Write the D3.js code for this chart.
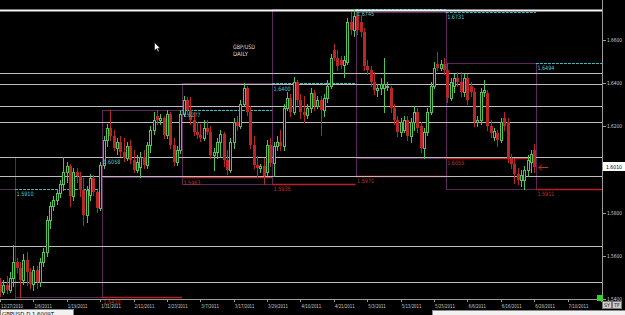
<!DOCTYPE html>
<html>
<head>
<meta charset="utf-8">
<script src="https://cdn.jsdelivr.net/npm/d3@7"></script>
<style>
  body { margin: 0; background: #000; }
  svg { display: block; }
  text { font-family: "DejaVu Sans", Arial, sans-serif; }
</style>
</head>
<body>
<svg id="chart"></svg>
<script>
// GBP/USD daily, bar 0 = 12/27/2010
var dateLabels = ["12/27/2010", "1/6/2011", "1/19/2011", "1/31/2011", "2/11/2011", "2/23/2011", "3/7/2011",
  "3/17/2011", "3/29/2011", "4/10/2011", "4/21/2011", "5/3/2011", "5/13/2011", "5/25/2011", "6/6/2011",
  "6/16/2011", "6/28/2011", "7/10/2011", "7/21/2011"];
var labelBars = [0, 10, 20, 30, 40, 50, 60, 70, 80, 90, 100, 110, 120, 130, 140, 150, 160, 170, 180];

var opens = [
  1.5478, 1.5432, 1.5464, 1.5441, 1.5497, 1.5571, 1.5543, 1.5487, 1.5580, 1.5525,
  1.5469, 1.5534, 1.5478, 1.5571, 1.5617, 1.5766, 1.5830, 1.5858, 1.5891, 1.5932,
  1.5988, 1.6016, 1.5877, 1.5988, 1.5970, 1.5905, 1.5789, 1.5881, 1.5960, 1.5895,
  1.5821, 1.6020, 1.6136, 1.6192, 1.6155, 1.6099, 1.6127, 1.6081, 1.6053, 1.6109,
  1.6044, 1.5997, 1.6010, 1.6058, 1.6020, 1.6113, 1.6183, 1.6248, 1.6229, 1.6238,
  1.6159, 1.6257, 1.6113, 1.6034, 1.6090, 1.6257, 1.6322, 1.6275, 1.6229, 1.6173,
  1.6159, 1.6146, 1.6192, 1.6173, 1.6067, 1.6081, 1.6127, 1.6164, 1.6044, 1.5997,
  1.6127, 1.6220, 1.6201, 1.6303, 1.6377, 1.6266, 1.6113, 1.6020, 1.6007, 1.6016,
  1.5988, 1.6113, 1.6030, 1.6109, 1.6127, 1.6109, 1.6285, 1.6331, 1.6266, 1.6405,
  1.6322, 1.6266, 1.6252, 1.6285, 1.6354, 1.6294, 1.6322, 1.6275, 1.6331, 1.6386,
  1.6553, 1.6516, 1.6507, 1.6484, 1.6498, 1.6683, 1.6646, 1.6711, 1.6683, 1.6637,
  1.6479, 1.6461, 1.6405, 1.6368, 1.6377, 1.6377, 1.6382, 1.6377, 1.6285, 1.6229,
  1.6173, 1.6183, 1.6229, 1.6155, 1.6220, 1.6266, 1.6201, 1.6099, 1.6173, 1.6266,
  1.6386, 1.6488, 1.6470, 1.6488, 1.6461, 1.6331, 1.6386, 1.6424, 1.6405, 1.6359,
  1.6424, 1.6386, 1.6359, 1.6220, 1.6229, 1.6359, 1.6354, 1.6201, 1.6150, 1.6169,
  1.6136, 1.6238, 1.6220, 1.6053, 1.6025, 1.5979, 1.5951, 1.5951, 1.5997, 1.6034,
  1.6090];
var highs = [
  1.5497, 1.5487, 1.5506, 1.5525, 1.5650, 1.5589, 1.5571, 1.5608, 1.5617, 1.5543,
  1.5552, 1.5552, 1.5589, 1.5636, 1.5784, 1.5849, 1.5877, 1.5909, 1.5951, 1.6058,
  1.6034, 1.6025, 1.6007, 1.6007, 1.5988, 1.5960, 1.5923, 1.5979, 1.5974, 1.5905,
  1.6034, 1.6155, 1.6210, 1.6277, 1.6183, 1.6146, 1.6155, 1.6146, 1.6127, 1.6136,
  1.6090, 1.6067, 1.6081, 1.6090, 1.6127, 1.6201, 1.6266, 1.6275, 1.6257, 1.6248,
  1.6275, 1.6266, 1.6146, 1.6109, 1.6275, 1.6340, 1.6336, 1.6336, 1.6266, 1.6220,
  1.6210, 1.6229, 1.6229, 1.6201, 1.6099, 1.6146, 1.6183, 1.6173, 1.6090, 1.6146,
  1.6238, 1.6248, 1.6322, 1.6400, 1.6386, 1.6294, 1.6155, 1.6062, 1.6025, 1.6053,
  1.6136, 1.6146, 1.6127, 1.6155, 1.6183, 1.6303, 1.6359, 1.6349, 1.6428, 1.6414,
  1.6349, 1.6340, 1.6303, 1.6377, 1.6368, 1.6340, 1.6340, 1.6349, 1.6414, 1.6535,
  1.6581, 1.6553, 1.6526, 1.6526, 1.6702, 1.6729, 1.6745, 1.6731, 1.6711, 1.6655,
  1.6507, 1.6479, 1.6451, 1.6396, 1.6424, 1.6516, 1.6405, 1.6386, 1.6303, 1.6248,
  1.6238, 1.6248, 1.6248, 1.6238, 1.6294, 1.6285, 1.6220, 1.6192, 1.6285, 1.6405,
  1.6498, 1.6544, 1.6507, 1.6516, 1.6494, 1.6424, 1.6442, 1.6451, 1.6451, 1.6442,
  1.6442, 1.6405, 1.6377, 1.6248, 1.6377, 1.6414, 1.6368, 1.6229, 1.6192, 1.6183,
  1.6238, 1.6266, 1.6238, 1.6071, 1.6053, 1.6007, 1.5997, 1.6016, 1.6067, 1.6090,
  1.6118];
var lows = [
  1.5413, 1.5423, 1.5427, 1.5432, 1.5460, 1.5525, 1.5410, 1.5469, 1.5464, 1.5450,
  1.5441, 1.5450, 1.5460, 1.5552, 1.5599, 1.5728, 1.5812, 1.5840, 1.5872, 1.5905,
  1.5942, 1.5830, 1.5858, 1.5942, 1.5877, 1.5742, 1.5756, 1.5858, 1.5881, 1.5803,
  1.5812, 1.6007, 1.6109, 1.6136, 1.6090, 1.6071, 1.6062, 1.6039, 1.6044, 1.6030,
  1.5988, 1.5988, 1.5963, 1.6007, 1.6007, 1.6081, 1.6164, 1.6210, 1.6210, 1.6146,
  1.6146, 1.6099, 1.6020, 1.6020, 1.6076, 1.6248, 1.6257, 1.6210, 1.6159, 1.6146,
  1.6132, 1.6136, 1.6164, 1.6053, 1.5997, 1.6053, 1.6058, 1.6016, 1.5979, 1.5988,
  1.6099, 1.6183, 1.6192, 1.6294, 1.6252, 1.6099, 1.6007, 1.5970, 1.5988, 1.5935,
  1.5974, 1.6016, 1.5971, 1.6090, 1.6090, 1.6090, 1.6275, 1.6248, 1.6257, 1.6303,
  1.6238, 1.6220, 1.6238, 1.6266, 1.6275, 1.6285, 1.6159, 1.6248, 1.6312, 1.6377,
  1.6507, 1.6461, 1.6470, 1.6428, 1.6488, 1.6627, 1.6618, 1.6627, 1.6618, 1.6461,
  1.6442, 1.6386, 1.6349, 1.6340, 1.6349, 1.6266, 1.6368, 1.6266, 1.6210, 1.6155,
  1.6155, 1.6173, 1.6136, 1.6127, 1.6183, 1.6173, 1.6081, 1.6055, 1.6159, 1.6257,
  1.6377, 1.6461, 1.6461, 1.6442, 1.6312, 1.6322, 1.6359, 1.6386, 1.6340, 1.6340,
  1.6303, 1.6340, 1.6201, 1.6201, 1.6210, 1.6340, 1.6183, 1.6150, 1.6136, 1.6109,
  1.6127, 1.6183, 1.6034, 1.6007, 1.5937, 1.5932, 1.5923, 1.5911, 1.5970, 1.5988,
  1.5988];
var closes = [
  1.5432, 1.5464, 1.5441, 1.5497, 1.5571, 1.5543, 1.5487, 1.5580, 1.5525, 1.5469,
  1.5534, 1.5478, 1.5571, 1.5617, 1.5766, 1.5830, 1.5858, 1.5891, 1.5932, 1.5988,
  1.6016, 1.5877, 1.5988, 1.5970, 1.5905, 1.5789, 1.5905, 1.5960, 1.5895, 1.5821,
  1.6020, 1.6136, 1.6192, 1.6155, 1.6099, 1.6127, 1.6081, 1.6053, 1.6109, 1.6044,
  1.5997, 1.6034, 1.6058, 1.6020, 1.6113, 1.6183, 1.6229, 1.6229, 1.6238, 1.6159,
  1.6257, 1.6113, 1.6034, 1.6090, 1.6257, 1.6322, 1.6275, 1.6229, 1.6173, 1.6159,
  1.6146, 1.6192, 1.6173, 1.6067, 1.6081, 1.6127, 1.6164, 1.6044, 1.5997, 1.6127,
  1.6220, 1.6201, 1.6303, 1.6377, 1.6266, 1.6113, 1.6020, 1.6007, 1.6016, 1.5970,
  1.6113, 1.6030, 1.6109, 1.6127, 1.6109, 1.6285, 1.6331, 1.6266, 1.6405, 1.6322,
  1.6266, 1.6252, 1.6285, 1.6354, 1.6294, 1.6322, 1.6275, 1.6331, 1.6386, 1.6516,
  1.6516, 1.6479, 1.6484, 1.6507, 1.6683, 1.6646, 1.6711, 1.6646, 1.6637, 1.6479,
  1.6461, 1.6405, 1.6368, 1.6377, 1.6396, 1.6396, 1.6386, 1.6285, 1.6229, 1.6173,
  1.6220, 1.6229, 1.6155, 1.6220, 1.6266, 1.6192, 1.6099, 1.6173, 1.6266, 1.6386,
  1.6470, 1.6470, 1.6488, 1.6461, 1.6331, 1.6405, 1.6424, 1.6405, 1.6359, 1.6424,
  1.6322, 1.6359, 1.6220, 1.6229, 1.6359, 1.6368, 1.6201, 1.6169, 1.6178, 1.6136,
  1.6220, 1.6201, 1.6053, 1.6025, 1.5979, 1.5951, 1.5974, 1.5997, 1.6044, 1.6071,
  1.6010];

// monthly ranges: Dec 2010 .. Jun 2011, monthStarts has Jul as last entry
var monthStarts = [-40, 5, 31, 55, 82, 107, 134, 161];
var monthHighs = [1.5910, 1.6058, 1.6277, 1.6400, 1.6745, 1.6731, 1.6494];
var monthLows = [1.5350, 1.5410, 1.5963, 1.5935, 1.5971, 1.6055, 1.5911];

// horizontal support / resistance lines
var levels = [1.6739, 1.6447, 1.6396, 1.6294, 1.6220, 1.6058, 1.5970, 1.5646, 1.5480];
var priceTicks = [1.66, 1.64, 1.62, 1.58, 1.56, 1.54];
var lastPrice = 1.6010;

var W = 625, H = 315, plotR = 602, plotB = 299;
var svg = d3.select("#chart").attr("width", W).attr("height", H);
svg.append("rect").attr("width", W).attr("height", H).attr("fill", "#000");

var x = d3.scaleLinear().domain([0, 180.3]).range([0, plotR]);
var y = d3.scaleLinear().domain([1.54, 1.66]).range([plotB, 40]);
var px = function (v) { return Math.round(v) + 0.5; };
var fmt = d3.format(".4f");

svg.append("defs").append("clipPath").attr("id", "plot")
  .append("rect").attr("width", plotR).attr("height", plotB);
var plot = svg.append("g").attr("clip-path", "url(#plot)");

// month range boxes
var boxes = monthHighs.map(function (h, m) {
  return { x0: x(monthStarts[m] - 0.5), x1: x(monthStarts[m + 1] - 0.5), hi: h, lo: monthLows[m] };
});
plot.selectAll("rect.box").data(boxes).join("rect").attr("class", "box")
  .attr("x", function (d) { return px(d.x0); })
  .attr("y", function (d) { return px(y(d.hi)); })
  .attr("width", function (d) { return Math.round(d.x1) - Math.round(d.x0); })
  .attr("height", function (d) { return Math.round(y(d.lo)) - Math.round(y(d.hi)); })
  .attr("fill", "none").attr("stroke", "#5c285c");

// previous month high / low drawn across the following month
var carry = monthHighs.map(function (h, m) {
  var end = m + 2 < monthStarts.length ? x(monthStarts[m + 2] - 0.5) : plotR;
  return { x0: x(monthStarts[m + 1] - 0.5), x1: end, hi: h, lo: monthLows[m] };
});
plot.selectAll("line.phi").data(carry).join("line").attr("class", "phi")
  .attr("x1", function (d) { return d.x0; }).attr("x2", function (d) { return d.x1; })
  .attr("y1", function (d) { return px(y(d.hi)); }).attr("y2", function (d) { return px(y(d.hi)); })
  .attr("stroke", "#46bcbc").attr("stroke-dasharray", "3,1");
plot.selectAll("line.plo").data(carry).join("line").attr("class", "plo")
  .attr("x1", function (d) { return d.x0; }).attr("x2", function (d) { return d.x1; })
  .attr("y1", function (d) { return px(y(d.lo)); }).attr("y2", function (d) { return px(y(d.lo)); })
  .attr("stroke", "#b82222").attr("stroke-width", 1.4);

var labelG = svg.append("g").attr("font-size", 6);
carry.forEach(function (d) {
  [[d.hi, "#5cc8c8"], [d.lo, "#c43232"]].forEach(function (p) {
    var ty = y(p[0]) + 7.5;
    if (ty > H) return;
    labelG.append("text").attr("x", d.x0 + 1.5).attr("y", ty)
      .attr("fill", p[1]).attr("textLength", 17).attr("lengthAdjust", "spacingAndGlyphs")
      .text(fmt(p[0]));
  });
});

// support / resistance lines
plot.selectAll("line.lvl").data(levels).join("line").attr("class", "lvl")
  .attr("x1", 0).attr("x2", plotR)
  .attr("y1", function (d) { return px(y(d)); }).attr("y2", function (d) { return px(y(d)); })
  .attr("stroke", function (d, i) { return i === 0 ? "#f4f4f4" : "#bdbdbd"; })
  .attr("stroke-width", function (d, i) { return i === 0 ? 1.8 : 1.1; });

// candles
var bars = closes.map(function (c, i) {
  return { i: i, o: opens[i], h: highs[i], l: lows[i], c: c, up: c >= opens[i] };
});
var green = "#50c450", red = "#b82626";
var cg = plot.append("g");
cg.selectAll("line.wick").data(bars).join("line").attr("class", "wick")
  .attr("x1", function (d) { return px(x(d.i)); }).attr("x2", function (d) { return px(x(d.i)); })
  .attr("y1", function (d) { return Math.round(y(d.h)); })
  .attr("y2", function (d) { return Math.round(y(d.l)) + 1; })
  .attr("stroke", function (d) { return d.up ? green : red; });
cg.selectAll("rect.body").data(bars).join("rect").attr("class", "body")
  .attr("x", function (d) { return d.up ? Math.round(x(d.i)) - 0.5 : Math.round(x(d.i)) - 1; })
  .attr("y", function (d) { return Math.round(y(Math.max(d.o, d.c))) + (d.up ? 0.5 : 0); })
  .attr("width", function (d) { return d.up ? 2 : 3; })
  .attr("height", function (d) {
    return Math.max(1, Math.round(y(Math.min(d.o, d.c))) - Math.round(y(Math.max(d.o, d.c))));
  })
  .attr("fill", function (d) { return d.up ? "#000" : red; })
  .attr("stroke", function (d) { return d.up ? green : "none"; });

// axes frame
svg.append("line").attr("x1", plotR + 0.5).attr("x2", plotR + 0.5).attr("y1", 0).attr("y2", plotB + 1)
  .attr("stroke", "#9c9c9c");
svg.append("line").attr("x1", 0).attr("x2", plotR).attr("y1", plotB + 0.5).attr("y2", plotB + 0.5)
  .attr("stroke", "#9c9c9c");

// price axis
var ya = svg.append("g").attr("font-size", 5.5).attr("fill", "#cfcfcf");
priceTicks.forEach(function (t) {
  ya.append("line").attr("x1", plotR).attr("x2", plotR + 4)
    .attr("y1", px(y(t))).attr("y2", px(y(t))).attr("stroke", "#9c9c9c");
  ya.append("text").attr("x", 607).attr("y", Math.min(y(t) + 2, 300.5))
    .attr("textLength", 15).attr("lengthAdjust", "spacingAndGlyphs").text(fmt(t));
});
ya.append("rect").attr("x", 603).attr("y", Math.round(y(lastPrice)) - 5)
  .attr("width", 22).attr("height", 9).attr("fill", "#fff");
ya.append("text").attr("x", 606).attr("y", y(lastPrice) + 2).attr("fill", "#000")
  .attr("textLength", 16).attr("lengthAdjust", "spacingAndGlyphs").text(fmt(lastPrice));

// date axis
var xa = svg.append("g").attr("font-size", 5.5).attr("fill", "#cfcfcf");
labelBars.forEach(function (b, k) {
  var lx = x(b);
  xa.append("line").attr("x1", px(lx)).attr("x2", px(lx)).attr("y1", plotB).attr("y2", plotB + 3)
    .attr("stroke", "#9c9c9c");
  xa.append("text").attr("x", lx + 1).attr("y", 307.5)
    .attr("textLength", dateLabels[k].length * 2.2).attr("lengthAdjust", "spacingAndGlyphs")
    .text(dateLabels[k]);
});

// title
svg.append("text").attr("x", 233).attr("y", 48.5).attr("font-size", 6).attr("fill", "#dcdcdc")
  .attr("textLength", 22).attr("lengthAdjust", "spacingAndGlyphs").text("GBP/USD");
svg.append("text").attr("x", 233).attr("y", 55.5).attr("font-size", 6).attr("fill", "#dcdcdc")
  .attr("textLength", 15).attr("lengthAdjust", "spacingAndGlyphs").text("DAILY");

// mouse pointer
svg.append("path").attr("transform", "translate(154.5,42.5)")
  .attr("d", "M0,0 L0,8 L2,6.3 L3.5,9.3 L4.6,8.8 L3.2,5.8 L5.6,5.8 Z")
  .attr("fill", "#fff").attr("stroke", "#000").attr("stroke-width", 0.5);

// current price arrow
var ay = px(y(lastPrice));
svg.append("path")
  .attr("d", "M539," + ay + " L548," + ay + " M539," + ay + " L542," + (ay - 3) + " M539," + ay + " L542," + (ay + 3))
  .attr("stroke", "#d03030").attr("fill", "none");

// status bar pieces
svg.append("rect").attr("x", 0.5).attr("y", 309.5).attr("width", 73).attr("height", 8)
  .attr("fill", "#f2f2f2").attr("stroke", "#888");
svg.append("text").attr("x", 2).attr("y", 315.5).attr("font-size", 5.5).attr("fill", "#000")
  .attr("textLength", 52).attr("lengthAdjust", "spacingAndGlyphs").text("GBPUSD,D  1.6009T");
svg.append("rect").attr("x", 432.5).attr("y", 310.5).attr("width", 193).attr("height", 8)
  .attr("fill", "#f2f2f2").attr("stroke", "#888");

// SY / TF buttons and green marker
svg.append("rect").attr("x", 597).attr("y", 295).attr("width", 6).attr("height", 6).attr("fill", "#2fd02f");
[["SY", 602], ["TF", 612]].forEach(function (b) {
  svg.append("rect").attr("x", b[1] + 0.5).attr("y", 301.5).attr("width", 9).attr("height", 7)
    .attr("fill", "#cfcfcf").attr("stroke", "#777");
  svg.append("text").attr("x", b[1] + 2).attr("y", 307).attr("font-size", 5).attr("fill", "#222")
    .attr("textLength", 6).attr("lengthAdjust", "spacingAndGlyphs").text(b[0]);
});
</script>
</body>
</html>
